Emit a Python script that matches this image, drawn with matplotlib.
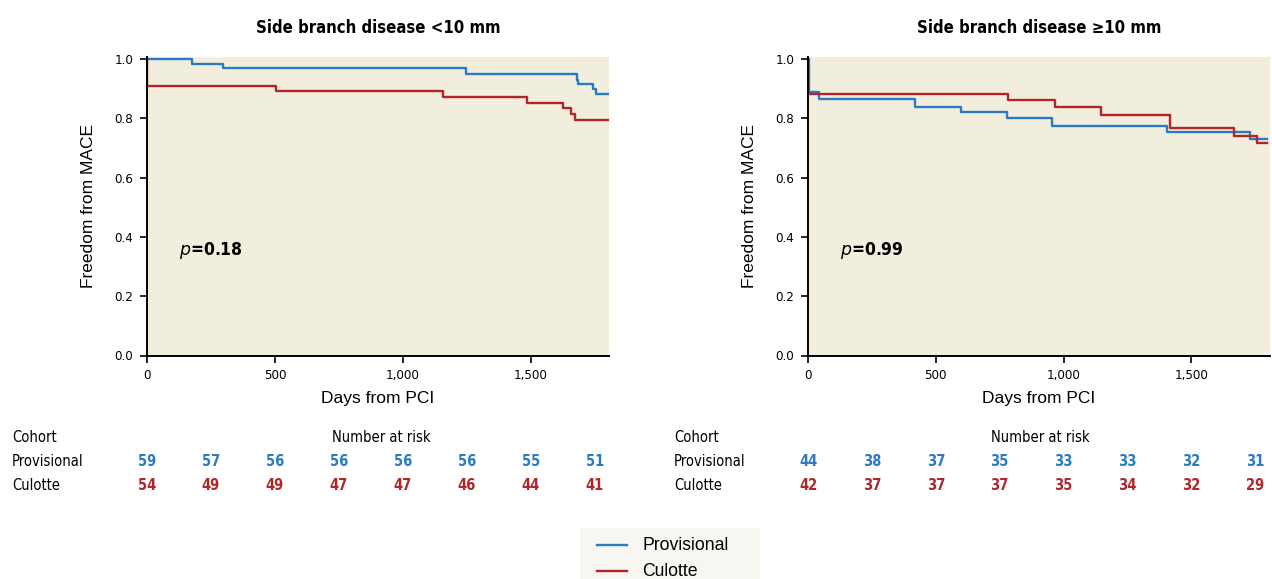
import matplotlib
matplotlib.use("Agg")
import matplotlib.pyplot as plt
from matplotlib.transforms import blended_transform_factory
from matplotlib.lines import Line2D
from matplotlib.patches import Rectangle

# ---------------- data ----------------
titles = ["Side branch disease <10 mm", "Side branch disease \u226510 mm"]
p_values = ["0.18", "0.99"]

# panel 1 (<10 mm)
prov1_t = [0, 176, 297, 1248, 1680, 1685, 1743, 1754, 1805]
prov1_s = [1.0, 0.983, 0.970, 0.950, 0.930, 0.917, 0.899, 0.881, 0.881]
cul1_t = [0, 1, 505, 1157, 1486, 1624, 1655, 1672, 1805]
cul1_s = [1.0, 0.908, 0.891, 0.873, 0.853, 0.834, 0.816, 0.795, 0.795]

# panel 2 (>=10 mm)
prov2_t = [0, 2, 43, 419, 597, 779, 955, 1406, 1728, 1795]
prov2_s = [1.0, 0.889, 0.865, 0.840, 0.822, 0.800, 0.773, 0.753, 0.731, 0.731]
cul2_t = [0, 1, 783, 968, 1148, 1417, 1669, 1759, 1795]
cul2_s = [1.0, 0.882, 0.861, 0.839, 0.811, 0.767, 0.741, 0.717, 0.717]

risk_times = [0, 250, 500, 750, 1000, 1250, 1500, 1750]
risk_prov1 = [59, 57, 56, 56, 56, 56, 55, 51]
risk_cul1 = [54, 49, 49, 47, 47, 46, 44, 41]
risk_prov2 = [44, 38, 37, 35, 33, 33, 32, 31]
risk_cul2 = [42, 37, 37, 37, 35, 34, 32, 29]

x_ticks = [0, 500, 1000, 1500]
x_tick_labels = ["0", "500", "1,000", "1,500"]
y_ticks = [0.0, 0.2, 0.4, 0.6, 0.8, 1.0]
y_tick_labels = ["0.0", "0.2", "0.4", "0.6", "0.8", "1.0"]

series_names = ["Provisional", "Culotte"]

# ---------------- style ----------------
BLUE = "#2a7bc3"
RED = "#b0262b"
BG = "#f2eedd"
REG = ["Liberation Sans", "DejaVu Sans"]
NARROW = dict(family="DejaVu Sans", stretch="condensed")

W, H = 1272, 579
fig = plt.figure(figsize=(W / 100, H / 100), dpi=100)

panels = [
    dict(left=147, right=609, prov=(prov1_t, prov1_s), cul=(cul1_t, cul1_s),
         rp=risk_prov1, rc=risk_cul1, cohort_x=12, nar_x=381, xmax=1805),
    dict(left=808, right=1270, prov=(prov2_t, prov2_s), cul=(cul2_t, cul2_s),
         rp=risk_prov2, rc=risk_cul2, cohort_x=674, nar_x=1040, xmax=1808),
]

top_px, bot_px = 57, 355.5
for i, pnl in enumerate(panels):
    ax = fig.add_axes([pnl["left"] / W, 1 - bot_px / H,
                       (pnl["right"] - pnl["left"]) / W, (bot_px - top_px) / H])
    ax.set_facecolor(BG)
    ax.plot(*pnl["prov"], drawstyle="steps-post", color=BLUE, lw=1.7)
    ax.plot(*pnl["cul"], drawstyle="steps-post", color=RED, lw=1.7)
    ax.set_xlim(0, pnl["xmax"])
    ax.set_ylim(0, 1.007)
    for s in ["top", "right"]:
        ax.spines[s].set_visible(False)
    for s in ["left", "bottom"]:
        ax.spines[s].set_linewidth(1.4)
    ax.set_xticks(x_ticks)
    ax.set_xticklabels(x_tick_labels, fontsize=9.5, **NARROW)
    ax.set_yticks(y_ticks)
    ax.set_yticklabels(y_tick_labels, fontsize=9.5, **NARROW)
    ax.tick_params(direction="out", length=5, width=1.2, pad=5)
    ax.set_xlabel("Days from PCI", family=REG, fontsize=12.5, labelpad=6)
    ax.set_ylabel("Freedom from MACE", family=REG, fontsize=12.5, labelpad=13)
    ax.set_title(titles[i], fontsize=12, fontweight="bold", pad=17, **NARROW)
    ax.text(0.07, 0.352, r"$\bf{\it{p}}$" + "=" + p_values[i], transform=ax.transAxes,
            fontsize=12.5, fontweight="bold", va="center", ha="left", **NARROW)

    # number-at-risk table
    tr = blended_transform_factory(ax.transData, fig.transFigure)
    y_coh, y_prov, y_cul = 1 - 437 / H, 1 - 461 / H, 1 - 485 / H
    fig.text(pnl["cohort_x"] / W, y_coh, "Cohort", fontsize=10.5, va="center", **NARROW)
    fig.text(pnl["cohort_x"] / W, y_prov, "Provisional", fontsize=10.5, va="center", **NARROW)
    fig.text(pnl["cohort_x"] / W, y_cul, "Culotte", fontsize=10.5, va="center", **NARROW)
    fig.text(pnl["nar_x"] / W, y_coh, "Number at risk", fontsize=10.5,
             va="center", ha="center", **NARROW)
    for t, a, b in zip(risk_times, pnl["rp"], pnl["rc"]):
        ax.text(t, y_prov, str(a), transform=tr, color=BLUE,
                fontsize=10.5, fontweight="bold", ha="center", va="center", **NARROW)
        ax.text(t, y_cul, str(b), transform=tr, color=RED,
                fontsize=10.5, fontweight="bold", ha="center", va="center", **NARROW)

# legend drawn in figure pixels
fig.patches.append(Rectangle((580 / W, 0), 180 / W, 1 - 528 / H,
                             transform=fig.transFigure, facecolor="#f8f6f0",
                             edgecolor="none", zorder=0))
for name, col, ypx in zip(series_names, [BLUE, RED], [545, 571]):
    fig.lines.append(Line2D([597 / W, 627 / W], [1 - ypx / H, 1 - ypx / H],
                            transform=fig.transFigure, color=col, lw=1.7))
    fig.text(642 / W, 1 - ypx / H, name, family=REG, fontsize=12.7, va="center")

fig.savefig("out.png", dpi=100)
